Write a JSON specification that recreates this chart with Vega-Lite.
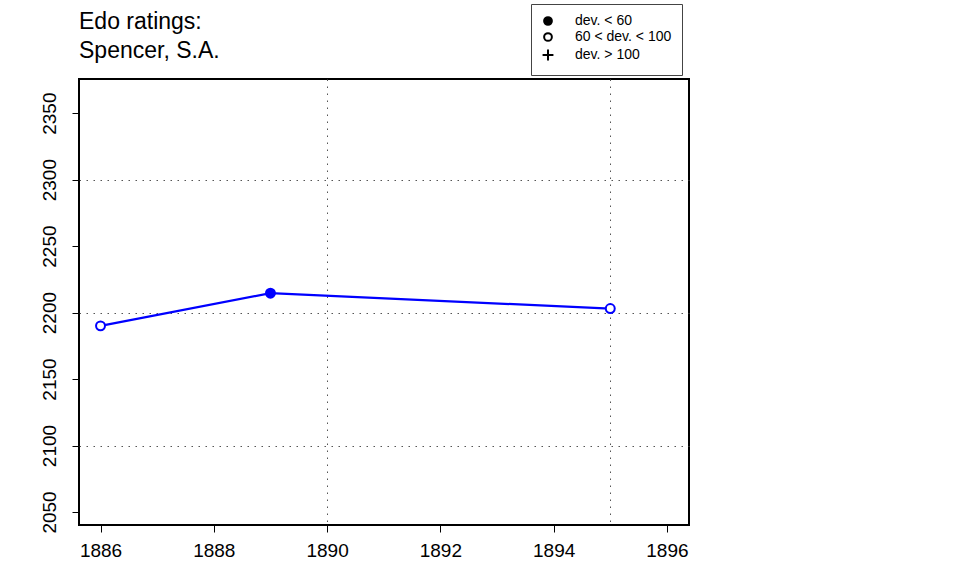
{
  "$schema": "https://vega.github.io/schema/vega-lite/v6.json",
  "width": 610,
  "height": 446,
  "autosize": "none",
  "padding": {"left": 79, "top": 79, "right": 271, "bottom": 51},
  "background": "white",
  "title": {
    "text": ["Edo ratings:", "Spencer, S.A."],
    "anchor": "start",
    "frame": "group",
    "font": "Liberation Sans",
    "fontSize": 23,
    "fontWeight": "normal",
    "lineHeight": 29.5,
    "baseline": "alphabetic",
    "offset": 0,
    "dy": 77.5,
    "color": "black"
  },
  "config": {
    "font": "Liberation Sans",
    "view": {"stroke": "black", "strokeWidth": 2},
    "axis": {
      "title": null,
      "domain": false,
      "grid": true,
      "gridDash": [1.5, 5.5],
      "gridColor": "#555555",
      "gridWidth": 1,
      "tickColor": "black",
      "tickSize": 7,
      "tickWidth": 1,
      "labelColor": "black",
      "labelFont": "Liberation Sans",
      "labelFontSize": 19,
      "labelOverlap": false,
      "labelFlush": false,
      "format": "d"
    },
    "legend": {
      "orient": "none",
      "legendX": 452,
      "legendY": -75,
      "title": null,
      "padding": 10,
      "strokeColor": "#444444",
      "fillColor": "white",
      "labelFont": "Liberation Sans",
      "labelFontSize": 14,
      "labelColor": "black",
      "labelOffset": 20,
      "rowPadding": 0,
      "symbolSize": 60,
      "symbolOpacity": 1,
      "symbolStrokeWidth": 2
    }
  },
  "data": {
    "values": [
      {"year": 1886, "rating": 2190, "dev": "60 < dev. < 100"},
      {"year": 1889, "rating": 2214.6, "dev": "dev. < 60"},
      {"year": 1895, "rating": 2203, "dev": "60 < dev. < 100"}
    ]
  },
  "encoding": {
    "x": {
      "field": "year",
      "type": "quantitative",
      "scale": {"domain": [1885.62, 1896.39], "nice": false, "zero": false},
      "axis": {
        "values": [1886, 1888, 1890, 1892, 1894, 1895, 1896],
        "labelPadding": 9,
        "labelOpacity": {"condition": {"test": "datum.value === 1895", "value": 0}, "value": 1},
        "tickOpacity": {"condition": {"test": "datum.value === 1895", "value": 0}, "value": 1},
        "gridOpacity": {"condition": {"test": "datum.value === 1890 || datum.value === 1895", "value": 1}, "value": 0}
      }
    },
    "y": {
      "field": "rating",
      "type": "quantitative",
      "scale": {"domain": [2040.2, 2375.7], "nice": false, "zero": false},
      "axis": {
        "values": [2050, 2100, 2150, 2200, 2250, 2300, 2350],
        "labelAngle": 270,
        "labelAlign": "center",
        "labelBaseline": "alphabetic",
        "labelPadding": 17,
        "gridOpacity": {"condition": {"test": "datum.value % 100 === 0", "value": 1}, "value": 0}
      }
    }
  },
  "layer": [
    {
      "mark": {"type": "line", "color": "#0000ff", "strokeWidth": 2.3}
    },
    {
      "mark": {"type": "point", "shape": "circle", "opacity": 1, "strokeWidth": 2, "size": 80, "stroke": "#0000ff"},
      "encoding": {
        "fill": {
          "condition": {"test": "datum.dev === 'dev. < 60'", "value": "#0000ff"},
          "value": "white"
        }
      }
    },
    {
      "mark": {"type": "point", "opacity": 0, "strokeWidth": 2},
      "encoding": {
        "shape": {
          "field": "dev",
          "type": "nominal",
          "scale": {
            "domain": ["dev. < 60", "60 < dev. < 100", "dev. > 100"],
            "range": ["circle", "circle", "M-1.4,0H1.4M0,-1.4V1.4"]
          }
        },
        "fill": {
          "field": "dev",
          "type": "nominal",
          "scale": {
            "domain": ["dev. < 60", "60 < dev. < 100", "dev. > 100"],
            "range": ["black", "transparent", "black"]
          }
        },
        "stroke": {
          "field": "dev",
          "type": "nominal",
          "scale": {
            "domain": ["dev. < 60", "60 < dev. < 100", "dev. > 100"],
            "range": ["black", "black", "black"]
          }
        }
      }
    }
  ]
}
